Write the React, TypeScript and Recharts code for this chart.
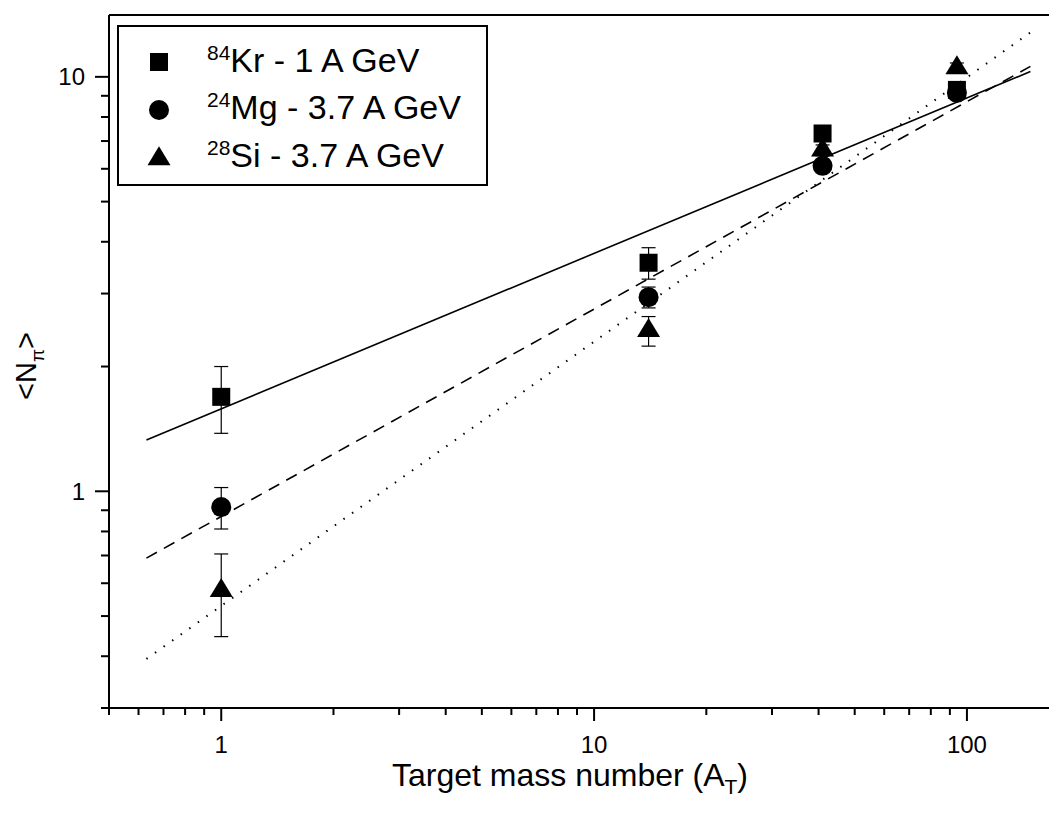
import { ComposedChart, Scatter, Line, XAxis, YAxis, ErrorBar } from 'recharts';

// target mass numbers (H, CNO, ~41, AgBr)
const targetMass = [1, 14, 41, 94];

// mean pion multiplicities and their errors
const krMult = [1.69, 3.56, 7.3, 9.3];
const krErr = [0.31, 0.31, 0.2, 0.2];
const mgMult = [0.916, 2.94, 6.1, 9.15];
const mgErr = [0.105, 0.17, 0.15, 0.2];
const siMult = [0.576, 2.44, 6.65, 10.5];
const siErr = [0.13, 0.2, 0.2, 0.3];

// power-law fits, end points
const fitRange = [0.63, 148];
const krFit = [1.33, 10.3];
const mgFit = [0.69, 10.6];
const siFit = [0.394, 12.8];

const xMajor = [1, 10, 100];
const xMinor = [0.5, 0.6, 0.7, 0.8, 0.9, 2, 3, 4, 5, 6, 7, 8, 9, 20, 30, 40, 50, 60, 70, 80, 90];
const yMajor = [1, 10];
const yMinor = [0.3, 0.4, 0.5, 0.6, 0.7, 0.8, 0.9, 2, 3, 4, 5, 6, 7, 8, 9];

const FONT = '"Liberation Sans", Arial, sans-serif';

const xTicks = [...xMinor, ...xMajor].sort((a, b) => a - b);
const yTicks = [...yMinor, ...yMajor].sort((a, b) => a - b);

const points = (ys: number[], es: number[]) => targetMass.map((x, i) => ({ x, y: ys[i], e: es[i] }));
const fit = (ys: number[]) => fitRange.map((x, i) => ({ x, y: ys[i] }));

const square = (p: any) => <rect x={p.cx - 9} y={p.cy - 9} width={18} height={18} fill="#000" />;
const circle = (p: any) => <circle cx={p.cx} cy={p.cy} r={10} fill="#000" />;
const triangle = (p: any) => (
  <polygon points={`${p.cx},${p.cy - 12.7} ${p.cx - 11.5},${p.cy + 6.3} ${p.cx + 11.5},${p.cy + 6.3}`} fill="#000" />
);

function BottomTick({ x, y, payload }: any) {
  const major = xMajor.includes(payload.value);
  return (
    <g>
      <line x1={x} y1={y} x2={x} y2={y + (major ? 13 : 7)} stroke="#000" strokeWidth={2} />
      {major && (
        <text x={x} y={y + 45} textAnchor="middle" fontSize={24} fontFamily={FONT} fill="#000">
          {payload.value}
        </text>
      )}
    </g>
  );
}

function TopTick({ x, y, payload }: any) {
  const major = xMajor.includes(payload.value);
  return <line x1={x} y1={y} x2={x} y2={y - (major ? 10 : 6)} stroke="#000" strokeWidth={2} />;
}

function LeftTick({ x, y, payload }: any) {
  const major = yMajor.includes(payload.value);
  return (
    <g>
      <line x1={x} y1={y} x2={x - (major ? 14 : 8)} y2={y} stroke="#000" strokeWidth={2} />
      {major && (
        <text x={x - 24} y={y + 8.5} textAnchor="end" fontSize={24} fontFamily={FONT} fill="#000">
          {payload.value}
        </text>
      )}
    </g>
  );
}

const legendRows = [
  { iso: '84', name: 'Kr - 1 A GeV', mark: 'square' },
  { iso: '24', name: 'Mg - 3.7 A GeV', mark: 'circle' },
  { iso: '28', name: 'Si - 3.7 A GeV', mark: 'triangle' },
];

function LegendMark({ kind }: { kind: string }) {
  const c = 15;
  return (
    <svg width={30} height={30} style={{ display: 'block' }}>
      {kind === 'square' && square({ cx: c, cy: c })}
      {kind === 'circle' && circle({ cx: c, cy: c })}
      {kind === 'triangle' && triangle({ cx: c, cy: c + 2 })}
    </svg>
  );
}

export default function App() {
  return (
    <div style={{ position: 'absolute', left: 0, top: 0, width: 1049, height: 818, overflow: 'hidden', background: '#fff' }}>
      <ComposedChart width={1049} height={818} margin={{ top: 0, right: 0, bottom: 0, left: 0 }}>
        <XAxis
          xAxisId={0}
          dataKey="x"
          type="number"
          scale="log"
          domain={[0.5, 166]}
          allowDataOverflow
          ticks={xTicks}
          interval={0}
          tickSize={0}
          tickMargin={0}
          height={110}
          axisLine={{ stroke: '#000', strokeWidth: 2 }}
          tickLine={false}
          tick={<BottomTick />}
        />
        <XAxis
          xAxisId="top"
          orientation="top"
          type="number"
          scale="log"
          domain={[0.5, 166]}
          allowDataOverflow
          ticks={xTicks}
          interval={0}
          tickSize={0}
          tickMargin={0}
          height={15}
          axisLine={{ stroke: '#000', strokeWidth: 2 }}
          tickLine={false}
          tick={<TopTick />}
        />
        <YAxis
          dataKey="y"
          type="number"
          scale="log"
          domain={[0.3, 14.1]}
          allowDataOverflow
          ticks={yTicks}
          interval={0}
          tickSize={0}
          tickMargin={0}
          width={109}
          axisLine={{ stroke: '#000', strokeWidth: 2 }}
          tickLine={false}
          tick={<LeftTick />}
        />
        <Line data={fit(krFit)} dataKey="y" stroke="#000" strokeWidth={1.6} dot={false} isAnimationActive={false} />
        <Line data={fit(mgFit)} dataKey="y" stroke="#000" strokeWidth={1.6} strokeDasharray="12 8" dot={false} isAnimationActive={false} />
        <Line data={fit(siFit)} dataKey="y" stroke="#000" strokeWidth={2} strokeDasharray="1.5 9" dot={false} isAnimationActive={false} />
        <Scatter data={points(krMult, krErr)} dataKey="y" shape={square} isAnimationActive={false}>
          <ErrorBar dataKey="e" direction="y" width={7} stroke="#000" strokeWidth={1.2} />
        </Scatter>
        <Scatter data={points(mgMult, mgErr)} dataKey="y" shape={circle} isAnimationActive={false}>
          <ErrorBar dataKey="e" direction="y" width={7} stroke="#000" strokeWidth={1.2} />
        </Scatter>
        <Scatter data={points(siMult, siErr)} dataKey="y" shape={triangle} isAnimationActive={false}>
          <ErrorBar dataKey="e" direction="y" width={7} stroke="#000" strokeWidth={1.2} />
        </Scatter>
        <text x={570} y={786} textAnchor="middle" fontSize={32} fontFamily={FONT} fill="#000">
          Target mass number (A
          <tspan fontSize={21} dy={8}>T</tspan>
          <tspan dy={-8}>)</tspan>
        </text>
        <text x={36} y={366} textAnchor="middle" fontSize={29} fontFamily={FONT} fill="#000" transform="rotate(-90 36 366)">
          {'<N'}
          <tspan fontSize={19} dy={8}>π</tspan>
          <tspan dy={-8}>{'>'}</tspan>
        </text>
      </ComposedChart>
      <div
        style={{
          position: 'absolute',
          left: 117,
          top: 25,
          width: 371,
          height: 161,
          boxSizing: 'border-box',
          border: '2px solid #000',
          background: '#fff',
          fontFamily: FONT,
          color: '#000',
        }}
      >
        {legendRows.map((r, i) => (
          <div
            key={r.iso}
            style={{ position: 'absolute', left: 25, top: 35 + i * 47.5 - 15, height: 30, display: 'flex', alignItems: 'center' }}
          >
            <LegendMark kind={r.mark} />
            <span style={{ marginLeft: 33, fontSize: 34, lineHeight: '30px', whiteSpace: 'nowrap' }}>
              <sup style={{ fontSize: 21, verticalAlign: 0, position: 'relative', top: -12 }}>{r.iso}</sup>
              {r.name}
            </span>
          </div>
        ))}
      </div>
    </div>
  );
}
